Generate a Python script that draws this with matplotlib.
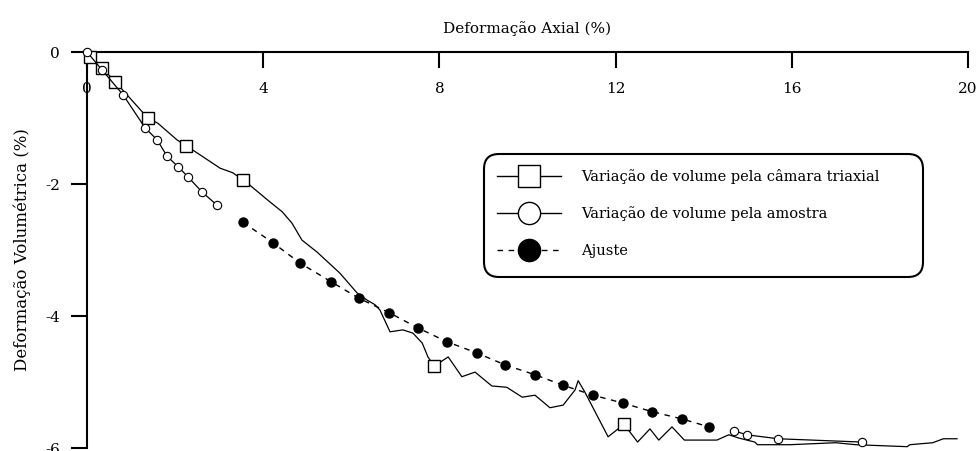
import numpy as np
import matplotlib
matplotlib.use('Agg')
from matplotlib import pyplot as plt
from matplotlib.lines import Line2D
from matplotlib.patches import FancyBboxPatch

plt.rcParams['font.family'] = 'DejaVu Serif'
plt.rcParams['axes.unicode_minus'] = False

# variação de volume pela câmara triaxial (linha + alguns quadrados)
camara_x = [0.07, 0.34, 0.64, 1.38, 1.61, 2.04, 2.25, 2.57, 3.02, 3.31, 3.54, 3.70, 4.15,
            4.43, 4.65, 4.88, 5.22, 5.74, 6.13, 6.36, 6.54, 6.65, 6.88, 7.17, 7.40, 7.61,
            7.74, 7.88, 8.20, 8.51, 8.81, 9.19, 9.53, 9.88, 10.17, 10.51, 10.81, 11.08,
            11.15, 11.30, 11.83, 12.19, 12.50, 12.78, 12.98, 13.28, 13.56, 14.30, 14.57,
            14.80, 15.16, 15.22, 15.96, 17.00, 17.45, 18.62, 18.68, 19.20, 19.44, 19.75]
camara_y = [-0.08, -0.24, -0.45, -1.00, -1.08, -1.33, -1.42, -1.56, -1.76, -1.83, -1.94, -2.02, -2.27,
            -2.42, -2.59, -2.85, -3.03, -3.35, -3.65, -3.76, -3.83, -3.91, -4.24, -4.21, -4.26, -4.41,
            -4.62, -4.76, -4.62, -4.92, -4.85, -5.06, -5.08, -5.23, -5.20, -5.39, -5.35, -5.12,
            -4.98, -5.15, -5.83, -5.64, -5.91, -5.71, -5.88, -5.68, -5.88, -5.88, -5.80,
            -5.85, -5.91, -5.95, -5.95, -5.92, -5.95, -5.98, -5.95, -5.92, -5.86, -5.86]
camara_quadrados = [0, 1, 2, 3, 6, 10, 27, 41]

# variação de volume pela amostra (dois trechos)
amostra_x = [0.0, 0.34, 0.82, 1.32, 1.59, 1.82, 2.07, 2.29, 2.61, 2.95,
             np.nan, 14.69, 14.98, 15.69, 17.59]
amostra_y = [0.0, -0.27, -0.65, -1.15, -1.33, -1.58, -1.74, -1.89, -2.12, -2.32,
             np.nan, -5.74, -5.80, -5.86, -5.91]

# ajuste
ajuste_x = [3.54, 4.22, 4.84, 5.54, 6.17, 6.86, 7.51, 8.17, 8.85, 9.49, 10.17,
            10.81, 11.49, 12.17, 12.83, 13.51, 14.12]
ajuste_y = [-2.58, -2.89, -3.20, -3.48, -3.73, -3.95, -4.18, -4.39, -4.56, -4.74, -4.89,
            -5.05, -5.20, -5.32, -5.45, -5.56, -5.68]

rotulos = ['Variação de volume pela câmara triaxial',
           'Variação de volume pela amostra',
           'Ajuste']

fig = plt.figure(figsize=(9.76, 4.51), dpi=100)
ax = fig.add_axes([87/976, 3/451, (968-87)/976, (448-52)/451])

ax.plot(camara_x, camara_y, '-', color='black', lw=0.9, marker='s', markevery=camara_quadrados,
        markersize=9, markerfacecolor='white', markeredgecolor='black', markeredgewidth=1.0,
        clip_on=False, zorder=3)
ax.plot(amostra_x, amostra_y, '-', color='black', lw=0.9, marker='o', markersize=6,
        markerfacecolor='white', markeredgecolor='black', markeredgewidth=0.8,
        clip_on=False, zorder=4)
ax.plot(ajuste_x, ajuste_y, color='black', lw=1.0, linestyle=(0, (4, 4)), marker='o',
        markersize=6.5, markerfacecolor='black', markeredgecolor='black', clip_on=False, zorder=5)

ax.set_xlim(0, 20)
ax.set_ylim(-6, 0)
ax.spines['bottom'].set_visible(False)
ax.spines['right'].set_visible(False)
ax.spines['top'].set_linewidth(1.5)
ax.spines['left'].set_linewidth(1.5)

ax.set_xticks([0, 4, 8, 12, 16, 20])
ax.set_yticks([0, -2, -4, -6])
ax.xaxis.tick_top()
ax.tick_params(axis='x', direction='in', length=11.5, width=1.5, pad=-31.5, labelsize=11)
ax.tick_params(axis='y', direction='out', length=11.5, width=1.5, pad=8, labelsize=11)

ax.set_xlabel('Deformação Axial (%)', fontsize=11, labelpad=14)
ax.xaxis.set_label_position('top')
ax.set_ylabel('Deformação Volumétrica (%)', fontsize=12, labelpad=10)

# caixa da legenda
caixa = FancyBboxPatch((4.84, 1.74), 9.23 - 4.84, 2.97 - 1.74,
                       boxstyle='round,pad=0,rounding_size=0.15',
                       transform=fig.dpi_scale_trans, facecolor='white',
                       edgecolor='black', linewidth=1.5, zorder=6)
fig.add_artist(caixa)

alcas = [Line2D([], [], color='black', lw=1.0, marker='s', markersize=16,
                markerfacecolor='white', markeredgecolor='black'),
         Line2D([], [], color='black', lw=1.0, marker='o', markersize=16,
                markerfacecolor='white', markeredgecolor='black'),
         Line2D([], [], color='black', lw=1.0, linestyle=(0, (4, 4)), marker='o', markersize=16,
                markerfacecolor='black', markeredgecolor='black')]
leg = fig.legend(alcas, rotulos, loc='upper left', bbox_to_anchor=(4.97, 2.82),
                 bbox_transform=fig.dpi_scale_trans, frameon=False, borderpad=0,
                 borderaxespad=0, handlelength=4.4, handletextpad=1.4, labelspacing=1.55,
                 prop={'family': 'DejaVu Serif', 'size': 10.5})
leg.set_zorder(7)

fig.savefig('out.png', dpi=100)
